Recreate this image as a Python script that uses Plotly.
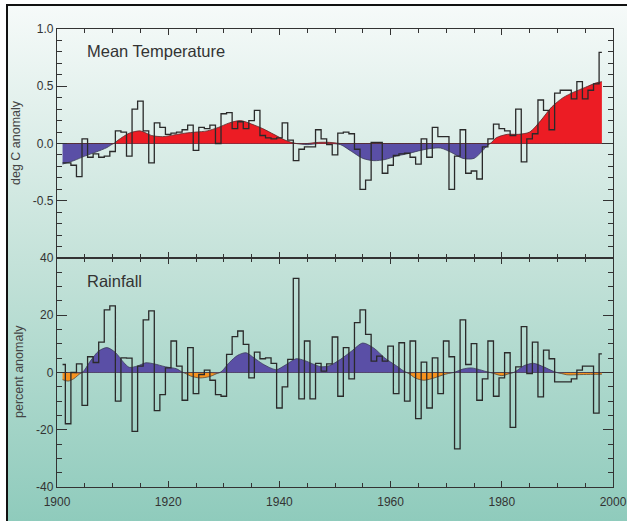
import base64
import numpy as np
import plotly.graph_objects as go

# ---------------- data ----------------
years = list(range(1901, 1999))

temp_anom = [
    -0.17, -0.17, -0.19, -0.29, 0.04, -0.12, -0.09, -0.12, -0.11, -0.07,   # 1901-1910
    0.11, 0.10, -0.11, 0.30, 0.37, 0.11, -0.17, 0.18, 0.14, 0.08,          # 1911-1920
    0.09, 0.10, 0.12, 0.16, -0.06, 0.14, 0.13, 0.16, 0.00, 0.26,           # 1921-1930
    0.27, 0.13, 0.19, 0.13, 0.20, 0.29, 0.07, 0.05, 0.04, 0.05,            # 1931-1940
    0.18, 0.03, -0.15, -0.05, -0.03, -0.03, 0.12, 0.04, -0.01, -0.10,      # 1941-1950
    0.09, 0.10, 0.085, -0.05, -0.40, -0.32, 0.01, 0.01, -0.26, -0.19,      # 1951-1960
    -0.105, -0.09, -0.085, -0.12, -0.18, 0.04, -0.12, 0.14, 0.06, 0.06,    # 1961-1970
    -0.40, -0.11, 0.12, -0.26, -0.24, -0.31, -0.03, 0.04, 0.17, 0.13,      # 1971-1980
    0.11, 0.07, 0.30, -0.16, 0.04, 0.085, 0.38, 0.29, 0.12, 0.44,          # 1981-1990
    0.465, 0.465, 0.39, 0.54, 0.39, 0.465, 0.52, 0.795,                    # 1991-1998
]

rain_anom = [
    2.8, -17.9, 0.0, 3.0, -11.5, 5.5, 3.5, 10.6, 21.9, 23.3,               # 1901-1910
    -10.0, 5.1, 5.0, -20.6, 2.2, 18.4, 21.5, -13.3, -7.7, 1.6,             # 1911-1920
    11.0, 2.2, -9.7, 8.7, -7.4, -0.7, 0.8, -2.7, -7.7, -8.3,               # 1921-1930
    6.3, 12.5, 14.5, 9.8, -1.9, 7.1, 4.8, 5.1, 3.2, -12.4,                 # 1931-1940
    -5.0, 4.6, 32.9, -9.2, 11.0, -9.2, 3.2, 0.5, 3.0, 12.4,                # 1941-1950
    -8.3, 8.7, -2.2, 17.4, 21.9, 13.3, 4.0, 5.7, 4.0, 9.2,                 # 1951-1960
    -7.4, 10.4, -10.0, 11.0, -16.1, 3.6, -12.4, 5.1, -7.4, 11.0,           # 1961-1970
    5.5, -26.7, 18.4, 2.8, 10.1, -9.7, -2.2, 11.0, -8.3, -1.9,             # 1971-1980
    6.9, -19.2, 2.0, 16.0, -0.4, 10.6, -8.5, 7.8, 4.8, -3.3,               # 1981-1990
    -3.3, -3.3, -2.2, 0.8, 2.2, 2.2, -14.2, 6.5,                           # 1991-1998
]

# smoothed curves
temp_smooth_years = [1901, 1903, 1905, 1907, 1909, 1910.2, 1911, 1913, 1915, 1917, 1919,
                     1921, 1923, 1925, 1927, 1929, 1931, 1933, 1935, 1937, 1939, 1941,
                     1943, 1945, 1947, 1949, 1951, 1953, 1955, 1957, 1959, 1961, 1963,
                     1965, 1967, 1969, 1971, 1973, 1975, 1977, 1977.9, 1979, 1981, 1983,
                     1985, 1987, 1989, 1991, 1993, 1995, 1997, 1998]
temp_smooth = [-0.18, -0.15, -0.11, -0.075, -0.035, 0.0, 0.03, 0.09, 0.11, 0.07, 0.06,
               0.075, 0.09, 0.10, 0.11, 0.14, 0.18, 0.20, 0.17, 0.13, 0.08, 0.03,
               0.0, -0.01, 0.01, 0.01, -0.01, -0.07, -0.13, -0.15, -0.14, -0.11, -0.09,
               -0.065, -0.045, -0.04, -0.08, -0.13, -0.13, -0.04, 0.0, 0.05, 0.08, 0.08,
               0.10, 0.20, 0.32, 0.40, 0.45, 0.49, 0.53, 0.54]

rain_smooth_years = [1901, 1902, 1903, 1904.5, 1906, 1907.5, 1909, 1910.5, 1912, 1913,
                     1914.5, 1916, 1917.5, 1919.5, 1921.5, 1922.7, 1924, 1925.7, 1927.5,
                     1929.3, 1931, 1932.5, 1934, 1935.5, 1937, 1938.5, 1939.5, 1941, 1943,
                     1944.5, 1946, 1947.5, 1949, 1951, 1953, 1955, 1957, 1959, 1961, 1962.9,
                     1964.5, 1966, 1968, 1969.5, 1971.3, 1973, 1974.5, 1976, 1977.9, 1980,
                     1982.1, 1984, 1985.7, 1987.5, 1989.9, 1991.7, 1994.7, 1998]
rain_smooth = [-2.5, -3.0, -2.2, 0.0, 4.0, 7.5, 8.7, 7.0, 3.5, 1.8,
               2.3, 3.4, 3.0, 2.0, 1.3, 0.0, -1.2, -1.9, -1.4,
               0.0, 3.5, 6.0, 6.9, 5.0, 3.0, 1.5, 1.0, 2.5, 4.8,
               4.2, 3.0, 2.0, 2.4, 4.6, 7.5, 10.3, 8.5, 5.0, 2.4, 0.0,
               -2.0, -2.7, -1.8, -0.8, 0.0, 1.2, 1.6, 1.0, 0.0, -1.1,
               0.0, 2.4, 3.2, 2.0, 0.0, -0.8, -0.7, -0.6]

panel_titles = ["Mean Temperature", "Rainfall"]
y_titles = ["deg C anomaly", "percent anomaly"]
temp_tickvals = [-1.0, -0.5, 0.0, 0.5, 1.0]
temp_ticktext = ["", "-0.5", "0.0", "0.5", "1.0"]
rain_tickvals = [-40, -20, 0, 20, 40]
rain_ticktext = ["-40", "-20", "0", "20", "40"]

# ---------------- styles ----------------
RED = "#ec1c24"
BLUE = "#5a4fa6"
ORANGE = "#f7931e"
INK = "#2a2a2a"
FONT = "Liberation Sans, Arial, sans-serif"

W, H = 627, 521
ML, MR, MT, MB = 57, 14, 29, 34
PW, PH = W - ML - MR, H - MT - MB


def px_x(p):
    return (p - ML) / PW


def px_y(p):
    return (H - MB - p) / PH


fig = go.Figure()

# smoothed fills: top panel
ts = np.array(temp_smooth)
fig.add_trace(go.Scatter(x=temp_smooth_years, y=np.minimum(ts, 0), fill="tozeroy",
                         fillcolor=BLUE, mode="lines",
                         line=dict(color="#3c3c5a", width=0.8, shape="spline", smoothing=0.8),
                         xaxis="x", yaxis="y", hoverinfo="skip", showlegend=False))
fig.add_trace(go.Scatter(x=temp_smooth_years, y=np.maximum(ts, 0), fill="tozeroy",
                         fillcolor=RED, mode="lines",
                         line=dict(color="#5a2a2a", width=0.8, shape="spline", smoothing=0.8),
                         xaxis="x", yaxis="y", hoverinfo="skip", showlegend=False))
# annual step line: top panel
fig.add_trace(go.Scatter(x=years, y=temp_anom, mode="lines",
                         line=dict(color=INK, width=1.3, shape="hvh"),
                         xaxis="x", yaxis="y", showlegend=False))

# smoothed fills: bottom panel
rs = np.array(rain_smooth)
fig.add_trace(go.Scatter(x=rain_smooth_years, y=np.minimum(rs, 0), fill="tozeroy",
                         fillcolor=ORANGE, mode="lines",
                         line=dict(color="#5a4a3a", width=0.8, shape="spline", smoothing=0.8),
                         xaxis="x2", yaxis="y2", hoverinfo="skip", showlegend=False))
fig.add_trace(go.Scatter(x=rain_smooth_years, y=np.maximum(rs, 0), fill="tozeroy",
                         fillcolor=BLUE, mode="lines",
                         line=dict(color="#3c3c5a", width=0.8, shape="spline", smoothing=0.8),
                         xaxis="x2", yaxis="y2", hoverinfo="skip", showlegend=False))
fig.add_trace(go.Scatter(x=years, y=rain_anom, mode="lines",
                         line=dict(color=INK, width=1.3, shape="hvh"),
                         xaxis="x2", yaxis="y2", showlegend=False))

tickfont = dict(family=FONT, size=12, color="#333333")

xcommon = dict(range=[1900, 2000], showline=True, linecolor="#333333", linewidth=1.3,
               mirror="ticks", ticks="inside", ticklen=6, tickwidth=1.2, tickcolor="#333333",
               tick0=1900, dtick=20, showgrid=False, zeroline=False, tickfont=tickfont,
               automargin=False,
               minor=dict(ticks="inside", tick0=1900, dtick=5, ticklen=3.5, tickwidth=1.1,
                          tickcolor="#333333", showgrid=False))
ycommon = dict(showline=True, linecolor="#333333", linewidth=1.3, mirror="ticks",
               ticks="inside", ticklen=10, tickwidth=1.2, tickcolor="#333333",
               showgrid=False, zeroline=True, zerolinecolor="#333333", zerolinewidth=1.3,
               tickfont=tickfont, tickmode="array", automargin=False)

fig.update_layout(
    width=W, height=H, autosize=False,
    margin=dict(l=ML, r=MR, t=MT, b=MB, autoexpand=False),
    paper_bgcolor="white",
    plot_bgcolor="rgba(0,0,0,0)",
    font=dict(family=FONT, color="#333333"),
    xaxis=dict(xcommon, domain=[0, 1], anchor="y", showticklabels=False),
    yaxis=dict(ycommon, domain=[0.5, 1], anchor="x", range=[-1, 1],
               tickvals=temp_tickvals, ticktext=temp_ticktext,
               minor=dict(ticks="inside", tickmode="linear", tick0=-1, dtick=0.1, ticklen=5,
                          tickwidth=1.1, tickcolor="#333333", showgrid=False)),
    xaxis2=dict(xcommon, domain=[0, 1], anchor="y2", showticklabels=True,
                ticklabelstandoff=3),
    yaxis2=dict(ycommon, domain=[0, 0.5], anchor="x2", range=[-40, 40],
                tickvals=rain_tickvals, ticktext=rain_ticktext,
                minor=dict(ticks="inside", tickmode="linear", tick0=-40, dtick=5, ticklen=5,
                           tickwidth=1.1, tickcolor="#333333", showgrid=False)),
)

# gradient background (white -> teal)
svg = ('<svg xmlns="http://www.w3.org/2000/svg" width="100" height="100" viewBox="0 0 100 100" '
       'preserveAspectRatio="none"><defs><linearGradient id="g" x1="0" y1="0" x2="0" y2="1">'
       '<stop offset="0" stop-color="#f6faf9"/><stop offset="0.5" stop-color="#c4e2d9"/>'
       '<stop offset="1" stop-color="#8fcbbc"/></linearGradient></defs>'
       '<rect width="100" height="100" fill="url(#g)"/></svg>')
src = "data:image/svg+xml;base64," + base64.b64encode(svg.encode()).decode()
fig.add_layout_image(dict(source=src, xref="paper", yref="paper",
                          x=px_x(8), y=px_y(5), sizex=(W - 8) / PW, sizey=(H - 5) / PH,
                          xanchor="left", yanchor="top", sizing="stretch", layer="below"))

# outer frame (top and left edges visible)
fig.add_shape(type="rect", xref="paper", yref="paper",
              x0=px_x(7), y0=px_y(H + 10), x1=px_x(W + 10), y1=px_y(5),
              line=dict(color="#111111", width=2), fillcolor="rgba(0,0,0,0)", layer="above")

# panel titles
fig.add_annotation(text=panel_titles[0], xref="paper", yref="paper", x=px_x(85), y=px_y(51),
                   xanchor="left", yanchor="middle", showarrow=False,
                   font=dict(family=FONT, size=16.5, color="#333333"))
fig.add_annotation(text=panel_titles[1], xref="paper", yref="paper", x=px_x(85), y=px_y(281),
                   xanchor="left", yanchor="middle", showarrow=False,
                   font=dict(family=FONT, size=16.5, color="#333333"))

# y-axis titles
fig.add_annotation(text=y_titles[0], xref="paper", yref="paper", x=px_x(16), y=px_y(143),
                   xanchor="center", yanchor="middle", textangle=-90, showarrow=False,
                   font=dict(family=FONT, size=12.5, color="#444444"))
fig.add_annotation(text=y_titles[1], xref="paper", yref="paper", x=px_x(19), y=px_y(372),
                   xanchor="center", yanchor="middle", textangle=-90, showarrow=False,
                   font=dict(family=FONT, size=12.5, color="#444444"))

post = ("document.body.style.margin='0';document.body.style.padding='0';"
        "document.body.style.overflow='hidden';"
        "document.documentElement.style.overflow='hidden';"
        "Plotly.relayout('{plot_id}', {width: 627, height: 521});")

fig.write_html("out.html", config={"responsive": False, "displayModeBar": False},
               post_script=post)
